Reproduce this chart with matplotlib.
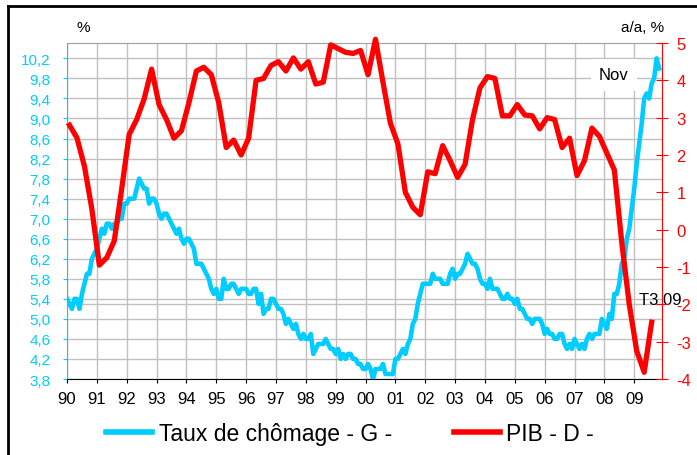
import numpy as np
import matplotlib
matplotlib.use("Agg")
import matplotlib.pyplot as plt
from matplotlib.lines import Line2D

plt.rcParams['font.family'] = ['Liberation Sans', 'DejaVu Sans']

# taux de chomage mensuel (jan 1990 -> nov 2009), %
chom_1990 = [5.4, 5.3, 5.2, 5.4, 5.4, 5.2, 5.5, 5.7, 5.9, 5.9, 6.2, 6.3]
chom_1991 = [6.4, 6.6, 6.8, 6.7, 6.9, 6.9, 6.8, 6.9, 6.9, 7.0, 7.0, 7.3]
chom_1992 = [7.3, 7.4, 7.4, 7.4, 7.6, 7.8, 7.7, 7.6, 7.6, 7.3, 7.4, 7.4]
chom_1993 = [7.3, 7.1, 7.0, 7.1, 7.1, 7.0, 6.9, 6.8, 6.7, 6.8, 6.6, 6.5]
chom_1994 = [6.6, 6.6, 6.5, 6.4, 6.1, 6.1, 6.1, 6.0, 5.9, 5.8, 5.6, 5.5]
chom_1995 = [5.6, 5.4, 5.4, 5.8, 5.6, 5.6, 5.7, 5.7, 5.6, 5.5, 5.6, 5.6]
chom_1996 = [5.6, 5.5, 5.5, 5.6, 5.6, 5.3, 5.5, 5.1, 5.2, 5.2, 5.4, 5.4]
chom_1997 = [5.3, 5.2, 5.2, 5.1, 4.9, 5.0, 4.9, 4.8, 4.9, 4.7, 4.6, 4.7]
chom_1998 = [4.6, 4.6, 4.7, 4.3, 4.4, 4.5, 4.5, 4.5, 4.6, 4.5, 4.4, 4.4]
chom_1999 = [4.3, 4.4, 4.2, 4.3, 4.2, 4.3, 4.3, 4.2, 4.2, 4.1, 4.1, 4.0]
chom_2000 = [4.0, 4.1, 4.0, 3.8, 4.0, 4.0, 4.0, 4.1, 3.9, 3.9, 3.9, 3.9]
chom_2001 = [4.2, 4.2, 4.3, 4.4, 4.3, 4.5, 4.6, 4.9, 5.0, 5.3, 5.5, 5.7]
chom_2002 = [5.7, 5.7, 5.7, 5.9, 5.8, 5.8, 5.8, 5.7, 5.7, 5.7, 5.9, 6.0]
chom_2003 = [5.8, 5.9, 5.9, 6.0, 6.1, 6.3, 6.2, 6.1, 6.1, 6.0, 5.8, 5.7]
chom_2004 = [5.7, 5.6, 5.8, 5.6, 5.6, 5.6, 5.5, 5.4, 5.4, 5.5, 5.4, 5.4]
chom_2005 = [5.3, 5.4, 5.2, 5.2, 5.1, 5.0, 5.0, 4.9, 5.0, 5.0, 5.0, 4.9]
chom_2006 = [4.7, 4.8, 4.7, 4.7, 4.6, 4.6, 4.7, 4.7, 4.5, 4.4, 4.5, 4.4]
chom_2007 = [4.6, 4.5, 4.4, 4.5, 4.4, 4.6, 4.7, 4.6, 4.7, 4.7, 4.7, 5.0]
chom_2008 = [4.9, 4.8, 5.1, 5.0, 5.5, 5.5, 5.7, 6.1, 6.2, 6.6, 6.8, 7.2]
chom_2009 = [7.6, 8.1, 8.5, 8.9, 9.4, 9.5, 9.4, 9.7, 9.8, 10.2, 10.0]

# PIB trimestriel, glissement annuel (T1 1990 -> T3 2009), %
pib = [2.80, 2.46, 1.70, 0.55,
       -0.95, -0.75, -0.30, 1.10,
       2.55, 2.95, 3.50, 4.30,
       3.35, 2.95, 2.45, 2.65,
       3.40, 4.25, 4.35, 4.15,
       3.40, 2.20, 2.40, 2.00,
       2.45, 4.00, 4.05, 4.40,
       4.50, 4.25, 4.60, 4.30,
       4.50, 3.90, 3.95, 4.95,
       4.85, 4.75, 4.72, 4.80,
       4.15, 5.10, 3.95, 2.85,
       2.30, 1.00, 0.60, 0.40,
       1.55, 1.50, 2.25, 1.85,
       1.40, 1.75, 2.95, 3.80,
       4.10, 4.05, 3.05, 3.05,
       3.35, 3.07, 3.05, 2.70,
       3.00, 2.95, 2.20, 2.45,
       1.45, 1.85, 2.72, 2.50,
       2.05, 1.60, -0.35, -2.00,
       -3.25, -3.82, -2.48]

annees = ['90', '91', '92', '93', '94', '95', '96', '97', '98', '99',
          '00', '01', '02', '03', '04', '05', '06', '07', '08', '09']
ticks_g = [3.8, 4.2, 4.6, 5.0, 5.4, 5.8, 6.2, 6.6, 7.0, 7.4, 7.8, 8.2, 8.6, 9.0, 9.4, 9.8, 10.2]
ticks_d = [-4, -3, -2, -1, 0, 1, 2, 3, 4, 5]

chom = (chom_1990 + chom_1991 + chom_1992 + chom_1993 + chom_1994 + chom_1995 + chom_1996
        + chom_1997 + chom_1998 + chom_1999 + chom_2000 + chom_2001 + chom_2002 + chom_2003
        + chom_2004 + chom_2005 + chom_2006 + chom_2007 + chom_2008 + chom_2009)
t_mois = 1990 + np.arange(len(chom)) / 12
t_trim = 1990 + (np.arange(len(pib)) * 3 + 1) / 12

BLEU = '#00CCFF'
ROUGE = '#FF0000'
G_MIN, G_MAX = 3.8, 10.507
D_MIN, D_MAX = -4, 5

fig = plt.figure(figsize=(6.97, 4.56), dpi=100)
ax = fig.add_axes([67/697, 1 - 380/456, (662-67)/697, (380-44)/456])
ax2 = ax.twinx()

ax.plot(t_mois, chom, color=BLEU, lw=3.3, solid_joinstyle='round', zorder=3)
ax2.plot(t_trim, pib, color=ROUGE, lw=3.8, solid_joinstyle='round', clip_on=False, zorder=3)

ax.set_xlim(1990, 2009.93)
ax.set_ylim(G_MIN, G_MAX)
ax2.set_ylim(D_MIN, D_MAX)

ax.set_xticks(np.arange(1990, 2010))
ax.set_xticklabels(annees, fontsize=12)
ax.set_yticks(ticks_g)
ax.set_yticklabels([f'{v:.1f}'.replace('.', ',') for v in ticks_g], fontsize=11, color=BLEU)
ax2.set_yticks(ticks_d)
ax2.set_yticklabels([str(v) for v in ticks_d], fontsize=12, color=ROUGE)

ax.grid(True, color='#C0C0C0', lw=1)
ax.set_axisbelow(True)
# ligne grise en plus sur l'original, au niveau -2 de l'axe droit
niv = G_MIN + (-2 - D_MIN) / (D_MAX - D_MIN) * (G_MAX - G_MIN)
ax.axhline(niv, color='#C0C0C0', lw=1, zorder=0)

ax.tick_params(axis='x', length=3, pad=6, color='black')
ax.tick_params(axis='y', length=3, pad=9, color=BLEU)
ax2.tick_params(axis='y', direction='inout', length=9, pad=6, color=ROUGE)

ax.spines['left'].set_color(BLEU)
ax.spines['bottom'].set_color('black')
ax.spines['top'].set_color('#A0A0A0')
ax.spines['right'].set_visible(False)
ax2.spines['left'].set_visible(False)
ax2.spines['top'].set_visible(False)
ax2.spines['bottom'].set_visible(False)
ax2.spines['right'].set_color(ROUGE)

fig.text(83/697, 1 - 28/456, '%', fontsize=11, ha='center', va='center')
fig.text(643/697, 1 - 28/456, 'a/a, %', fontsize=11, ha='center', va='center')

ax.text(2008.32, 9.87, 'Nov', fontsize=12, ha='center', va='center', zorder=5,
        bbox=dict(facecolor='white', edgecolor='none', boxstyle='square,pad=0.5'))
ax.text(2009.89, 5.38, 'T3 09', fontsize=12, ha='center', va='center', zorder=6, clip_on=False)

poignees = [Line2D([0], [0], color=BLEU, lw=4), Line2D([0], [0], color=ROUGE, lw=4)]
fig.legend(poignees, ['Taux de chômage - G -', 'PIB - D -'], loc='center',
           bbox_to_anchor=(350/697, 1 - 435/456), ncol=2, frameon=False, fontsize=16.5,
           handlelength=2.0, handletextpad=0.3, columnspacing=2.7)

# cadre noir (gauche et haut seulement visibles)
fig.add_artist(Line2D([8/697, 8/697], [0, 1 - 7/456], color='black', lw=2))
fig.add_artist(Line2D([8/697, 1], [1 - 7/456, 1 - 7/456], color='black', lw=2))

fig.savefig('out.png', dpi=100)
